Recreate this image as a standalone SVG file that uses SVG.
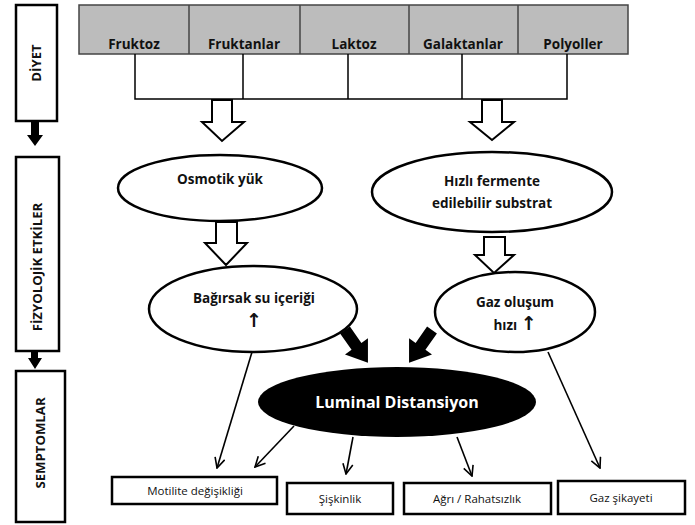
<svg xmlns="http://www.w3.org/2000/svg" width="695" height="525" viewBox="0 0 695 525">
<defs>
<style>
.t{font-family:"Open Sans","Noto Sans","Liberation Sans",sans-serif;fill:#111;text-anchor:middle}
.b{font-weight:700}
.hdr{font-size:13.5px;font-weight:700}
.side{font-size:13.2px;font-weight:700}
.up{font-family:"DejaVu Sans",sans-serif;font-size:19px;font-weight:700}
.ell{fill:#fff;stroke:#000;stroke-width:2.5}
.box{fill:#fff;stroke:#000;stroke-width:2.5}
.hollow{fill:#fff;stroke:#000;stroke-width:2;stroke-linejoin:miter}
.thin{stroke:#000;stroke-width:1.6;fill:none;marker-end:url(#ah)}
.solid{fill:#000}
</style>
<marker id="ah" viewBox="0 0 12 12" refX="11" refY="6" markerWidth="12" markerHeight="12" markerUnits="userSpaceOnUse" orient="auto">
<path d="M1,1 L11,6 L1,11" fill="none" stroke="#000" stroke-width="1.6"/>
</marker>
</defs>
<rect width="695" height="525" fill="#fff"/>

<g id="side-diyet">
<rect x="16" y="5" width="41" height="116" class="box"/>
<text class="t side" transform="translate(41,63) rotate(-90)">DİYET</text>
</g>
<g id="side-fizyolojik">
<rect x="16" y="157" width="43" height="194" class="box"/>
<text class="t side" transform="translate(42,267) rotate(-90)">FİZYOLOJİK ETKİLER</text>
</g>
<g id="side-semptomlar">
<rect x="16" y="371" width="49" height="151" class="box"/>
<text class="t side" transform="translate(45,443) rotate(-90)">SEMPTOMLAR</text>
</g>

<g id="diet-table">
<rect x="79" y="5" width="549" height="49" fill="#bcbcbc" stroke="#444" stroke-width="1.5"/>
<path d="M189,5V54M300,5V54M409,5V54M518,5V54" stroke="#444" stroke-width="1.5"/>
<text class="t hdr" x="134" y="49">Fruktoz</text>
<text class="t hdr" x="244" y="49">Fruktanlar</text>
<text class="t hdr" x="354" y="49">Laktoz</text>
<text class="t hdr" x="463" y="49">Galaktanlar</text>
<text class="t hdr" x="573" y="49">Polyoller</text>
</g>

<g id="osmotik">
<ellipse cx="220" cy="188" rx="102" ry="33" class="ell"/>
<text class="t hdr" x="220" y="184">Osmotik yük</text>
</g>
<g id="hizli">
<ellipse cx="492" cy="192" rx="120" ry="40" class="ell"/>
<text class="t hdr" x="492" y="186">Hızlı fermente</text>
<text class="t hdr" x="492" y="208">edilebilir substrat</text>
</g>
<g id="bagirsak">
<ellipse cx="253" cy="309" rx="104" ry="43" class="ell"/>
<text class="t hdr" x="254" y="303">Bağırsak su içeriği</text>
<text class="t up" x="254" y="327">↑</text>
</g>
<g id="gaz">
<ellipse cx="515" cy="312" rx="80" ry="40" class="ell"/>
<text class="t hdr" x="515" y="307">Gaz oluşum</text>
<text class="t hdr" x="515" y="330">hızı <tspan class="up">↑</tspan></text>
</g>
<g id="luminal">
<ellipse cx="397" cy="402" rx="139" ry="35" fill="#000"/>
<text class="t b" x="397" y="408" font-size="16" style="fill:#fff">Luminal Distansiyon</text>
</g>

<g id="motilite">
<rect x="112" y="477" width="165" height="27" class="box"/>
<text class="t" x="195" y="495" font-size="11.5">Motilite değişikliği</text>
</g>
<g id="siskinlik">
<rect x="287" y="483" width="106" height="31" class="box"/>
<text class="t" x="340" y="503" font-size="11.5">Şişkinlik</text>
</g>
<g id="agri">
<rect x="404" y="483" width="147" height="31" class="box"/>
<text class="t" x="477" y="503" font-size="11.5">Ağrı / Rahatsızlık</text>
</g>
<g id="gazsikayeti">
<rect x="558" y="481" width="127" height="33" class="box"/>
<text class="t" x="621" y="502" font-size="11.5">Gaz şikayeti</text>
</g>

<g id="connectors">
<path d="M135,54V99H567V54M243,54V99M348,54V99M462,54V99" fill="none" stroke="#000" stroke-width="1.5"/>
<path class="hollow" d="M212,100H232V122H244L222,141L202,122H212Z"/>
<path class="hollow" d="M482,100H502V122H514L492,140L470,122H482Z"/>
<path class="hollow" d="M216,222H237V243H247L226,265L205,243H216Z"/>
<path class="hollow" d="M484,237H505V255H514L494,273L475,255H484Z"/>
<path class="solid" d="M31,122H39V135H43L35,146L27,135H31Z"/>
<path class="solid" d="M31,351H38V358H42L35,369L28,358H31Z"/>
<path class="solid" transform="translate(345,330) rotate(55)" d="M0,-6H20V-14L40,0L20,14V6H0Z"/>
<path class="solid" transform="translate(432,330) rotate(125)" d="M0,-6H20V-14L40,0L20,14V6H0Z"/>
<line class="thin" x1="252" y1="352" x2="217" y2="468"/>
<line class="thin" x1="294" y1="426" x2="255" y2="467"/>
<line class="thin" x1="353" y1="437" x2="346" y2="474"/>
<line class="thin" x1="457" y1="437" x2="472" y2="476"/>
<line class="thin" x1="548" y1="352" x2="600" y2="468"/>
</g>
</svg>
